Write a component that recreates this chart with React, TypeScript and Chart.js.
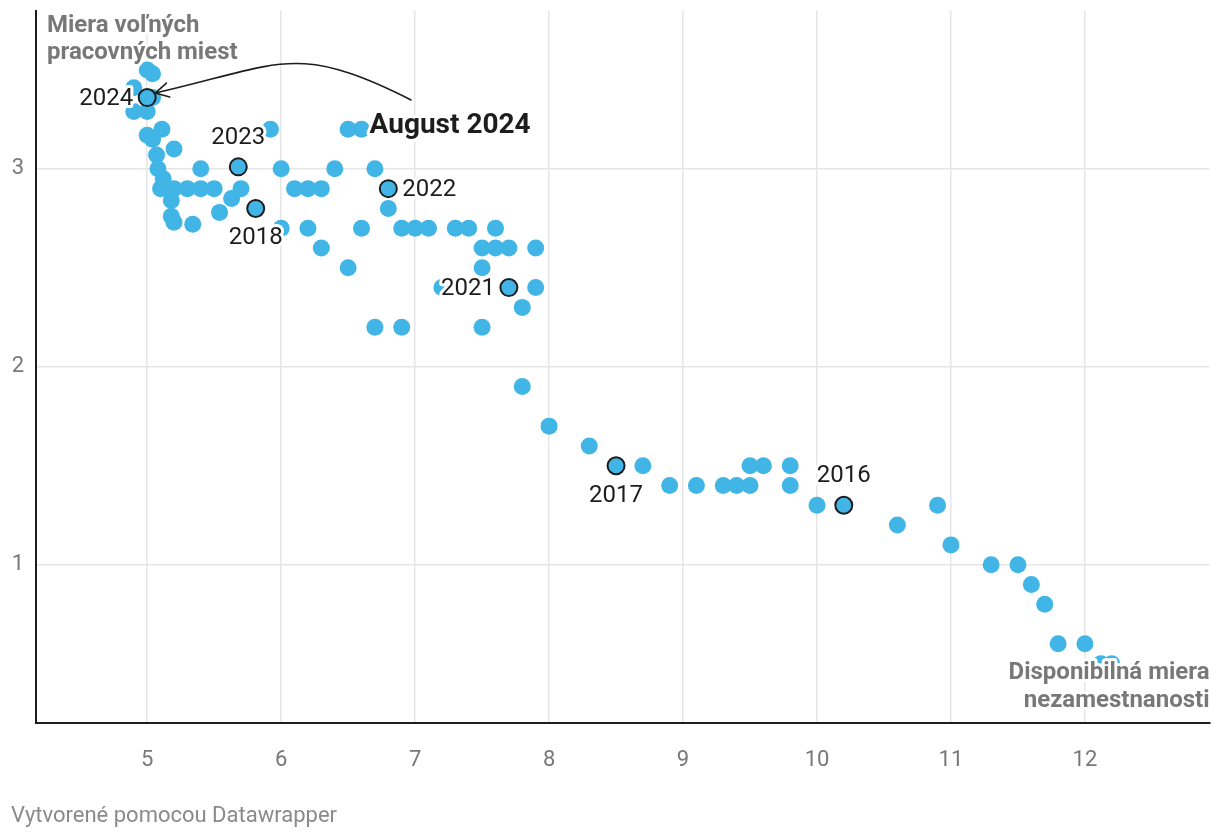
import React, { useEffect, useRef } from 'react';
import { Chart, registerables } from 'chart.js';

Chart.register(...registerables);

// Disponibilná miera nezamestnanosti (x) a miera voľných pracovných miest (y)
const unemployment = [
  5.0, 5.04, 4.9, 4.9, 5.0, 5.04,
  5.0, 5.04, 5.11, 5.2, 5.07, 5.08, 5.4, 5.12,
  5.1, 5.2, 5.3, 5.4, 5.5, 5.7,
  5.63, 5.18, 5.54, 5.18, 5.2, 5.34, 6.0,
  5.92, 6.5, 6.6, 6.0, 6.4, 6.7, 6.1, 6.2, 6.3, 6.8,
  6.2, 6.6, 6.9, 7.0, 7.1, 7.3, 7.4, 7.6,
  6.3, 6.5, 7.5, 7.6, 7.7, 7.9, 7.5, 7.2, 7.9, 7.8,
  6.7, 6.9, 7.5, 7.8, 8.0, 8.3, 8.7,
  8.9, 9.1, 9.3, 9.4, 9.5, 9.8, 9.5, 9.6, 9.8,
  10.0, 10.6, 10.9, 11.0, 11.3, 11.5, 11.6, 11.7, 11.8, 12.0, 12.12, 12.2,
];
const vacancies = [
  3.5, 3.48, 3.41, 3.29, 3.29, 3.36,
  3.17, 3.15, 3.2, 3.1, 3.07, 3.0, 3.0, 2.95,
  2.9, 2.9, 2.9, 2.9, 2.9, 2.9,
  2.85, 2.84, 2.78, 2.76, 2.73, 2.72, 2.7,
  3.2, 3.2, 3.2, 3.0, 3.0, 3.0, 2.9, 2.9, 2.9, 2.8,
  2.7, 2.7, 2.7, 2.7, 2.7, 2.7, 2.7, 2.7,
  2.6, 2.5, 2.6, 2.6, 2.6, 2.6, 2.5, 2.4, 2.4, 2.3,
  2.2, 2.2, 2.2, 1.9, 1.7, 1.6, 1.5,
  1.4, 1.4, 1.4, 1.4, 1.4, 1.4, 1.5, 1.5, 1.5,
  1.3, 1.2, 1.3, 1.1, 1.0, 1.0, 0.9, 0.8, 0.6, 0.6, 0.5, 0.5,
];

const highlightYears = ['2024', '2023', '2022', '2021', '2018', '2017', '2016'];
const highlightUnemployment = [5.0, 5.68, 6.8, 7.7, 5.81, 8.5, 10.2];
const highlightVacancies = [3.36, 3.01, 2.9, 2.4, 2.8, 1.5, 1.3];

const xTicks = [5, 6, 7, 8, 9, 10, 11, 12];
const yTicks = [1, 2, 3];

const yTitleLines = ['Miera voľných', 'pracovných miest'];
const xTitleLines = ['Disponibilná miera', 'nezamestnanosti'];
const annotationText = 'August 2024';
const footerText = 'Vytvorené pomocou Datawrapper';

// label placement for highlighted years (style, not data)
const labelPlacement = ['left', 'above', 'right', 'left', 'below', 'below', 'above'];

// arrow path in data coordinates: start, control1, control2, end
const arrowPath = [
  [6.97, 3.348],
  [6.104, 3.642],
  [6.007, 3.53],
  [5.06, 3.383],
];
const annotationAnchor = [6.66, 3.215];

const DOT = '#41b6e6';
const INK = '#1d1d1d';
const GRAY = '#787878';
const FONT = 'Roboto, "Noto Sans", sans-serif';

const annotationPlugin = {
  id: 'dwAnnotations',
  afterDatasetsDraw(chart: any) {
    const ctx: CanvasRenderingContext2D = chart.ctx;
    const xs = chart.scales.x;
    const ys = chart.scales.y;
    const area = chart.chartArea;
    ctx.save();
    const haloText = (text: string, x: number, y: number, font: string, color: string, align: CanvasTextAlign) => {
      ctx.font = font;
      ctx.textAlign = align;
      ctx.textBaseline = 'middle';
      ctx.lineJoin = 'round';
      ctx.strokeStyle = '#ffffff';
      ctx.lineWidth = 6;
      ctx.strokeText(text, x, y);
      ctx.fillStyle = color;
      ctx.fillText(text, x, y);
    };

    const labelFont = `400 24px ${FONT}`;
    highlightYears.forEach((yr, i) => {
      const px = xs.getPixelForValue(highlightUnemployment[i]);
      const py = ys.getPixelForValue(highlightVacancies[i]);
      const p = labelPlacement[i];
      if (p === 'left') haloText(yr, px - 14, py + 1, labelFont, INK, 'right');
      else if (p === 'right') haloText(yr, px + 14, py + 1, labelFont, INK, 'left');
      else if (p === 'above') haloText(yr, px, py - 29, labelFont, INK, 'center');
      else haloText(yr, px, py + 30, labelFont, INK, 'center');
    });

    // axis titles
    const titleFont = `700 24px ${FONT}`;
    haloText(yTitleLines[0], area.left + 11, area.top + 15, titleFont, GRAY, 'left');
    haloText(yTitleLines[1], area.left + 11, area.top + 42, titleFont, GRAY, 'left');
    haloText(xTitleLines[0], area.right, area.bottom - 50, titleFont, GRAY, 'right');
    haloText(xTitleLines[1], area.right, area.bottom - 22, titleFont, GRAY, 'right');

    // annotation text
    haloText(
      annotationText,
      xs.getPixelForValue(annotationAnchor[0]),
      ys.getPixelForValue(annotationAnchor[1]),
      `700 28px ${FONT}`,
      INK,
      'left'
    );

    // curved arrow
    const pts = arrowPath.map(([x, y]) => [xs.getPixelForValue(x), ys.getPixelForValue(y)]);
    ctx.beginPath();
    ctx.moveTo(pts[0][0], pts[0][1]);
    ctx.bezierCurveTo(pts[1][0], pts[1][1], pts[2][0], pts[2][1], pts[3][0], pts[3][1]);
    ctx.strokeStyle = INK;
    ctx.lineWidth = 1.6;
    ctx.lineCap = 'round';
    ctx.stroke();
    const ang = Math.atan2(pts[3][1] - pts[2][1], pts[3][0] - pts[2][0]);
    const len = 15;
    const spread = 0.5;
    ctx.beginPath();
    ctx.moveTo(pts[3][0] - len * Math.cos(ang - spread), pts[3][1] - len * Math.sin(ang - spread));
    ctx.lineTo(pts[3][0], pts[3][1]);
    ctx.lineTo(pts[3][0] - len * Math.cos(ang + spread), pts[3][1] - len * Math.sin(ang + spread));
    ctx.stroke();

    // footer
    ctx.font = `400 22px ${FONT}`;
    ctx.textAlign = 'left';
    ctx.textBaseline = 'middle';
    ctx.fillStyle = '#8a8a8a';
    ctx.fillText(footerText, 11, 816);
    ctx.restore();
  },
};

export default function App() {
  const canvasRef = useRef<HTMLCanvasElement | null>(null);

  useEffect(() => {
    document.body.style.margin = '0';
    const canvas = canvasRef.current;
    if (!canvas) return;
    const mainData = unemployment.map((x, i) => ({ x, y: vacancies[i] }));
    const hiData = highlightUnemployment.map((x, i) => ({ x, y: highlightVacancies[i] }));

    const chart = new Chart(canvas, {
      type: 'scatter',
      data: {
        datasets: [
          {
            label: 'highlight',
            data: hiData,
            backgroundColor: DOT,
            borderColor: INK,
            borderWidth: 2,
            pointRadius: 8.5,
            pointHoverRadius: 8.5,
          },
          {
            label: 'months',
            data: mainData,
            backgroundColor: DOT,
            borderWidth: 0,
            pointRadius: 8.5,
            pointHoverRadius: 8.5,
          },
        ],
      },
      options: {
        responsive: false,
        animation: false,
        events: [],
        layout: { padding: { top: 10, right: 10, left: 0, bottom: 0 } },
        plugins: {
          legend: { display: false },
          tooltip: { enabled: false },
        },
        scales: {
          x: {
            type: 'linear',
            min: 4.17,
            max: 12.93,
            afterBuildTicks: (scale: any) => {
              scale.ticks = xTicks.map((v) => ({ value: v }));
            },
            afterFit: (scale: any) => {
              scale.height = 117;
              scale.paddingLeft = 0;
              scale.paddingRight = 0;
            },
            grid: { color: '#e6e6e6', lineWidth: 1.5, drawTicks: false },
            border: { display: true, color: INK, width: 2 },
            ticks: {
              padding: 24,
              color: GRAY,
              font: { family: FONT, size: 22 },
              callback: (v: any) => String(v),
            },
          },
          y: {
            type: 'linear',
            min: 0.2,
            max: 3.8,
            afterBuildTicks: (scale: any) => {
              scale.ticks = yTicks.map((v) => ({ value: v }));
            },
            afterFit: (scale: any) => {
              scale.width = 36;
              scale.paddingTop = 0;
              scale.paddingBottom = 0;
            },
            grid: { color: '#e6e6e6', lineWidth: 1.5, drawTicks: false },
            border: { display: true, color: INK, width: 2 },
            ticks: {
              padding: 12,
              color: GRAY,
              font: { family: FONT, size: 22 },
              callback: (v: any) => String(v),
            },
          },
        },
      },
      plugins: [annotationPlugin],
    });
    return () => chart.destroy();
  }, []);

  return (
    <div style={{ width: 1220, height: 840 }}>
      <canvas ref={canvasRef} width={1220} height={840} style={{ display: 'block' }} />
    </div>
  );
}
